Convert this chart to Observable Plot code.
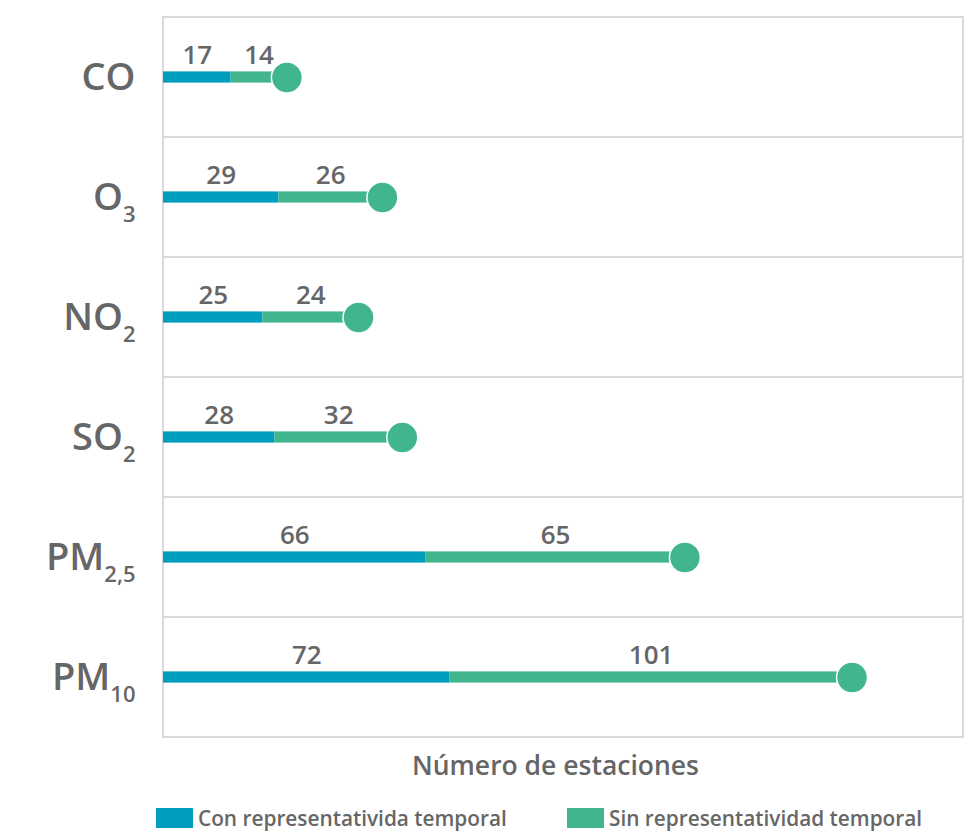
<!DOCTYPE html>
<html>
<head>
<meta charset="utf-8">
<script src="https://cdn.jsdelivr.net/npm/d3@7"></script>
<script src="https://cdn.jsdelivr.net/npm/@observablehq/plot@0.6"></script>
<style>
  html, body { margin: 0; padding: 0; background: #fff; }
  body { font-family: "Open Sans", sans-serif; color: #666; width: 971px; }
  #legend { position: relative; height: 40px; margin-top: 17px; font-size: 20.8px; font-weight: 600; color: #666; }
  .item { position: absolute; top: 0; display: flex; align-items: center; height: 21px; }
  .sw { width: 37px; height: 20px; margin-right: 5px; }
</style>
</head>
<body>
<div id="chart"></div>
<div id="legend"></div>
<script>
const categories = ["CO", "O3", "NO2", "SO2", "PM2,5", "PM10"];
const labelMain = ["CO", "O", "NO", "SO", "PM", "PM"];
const labelSub = ["", "3", "2", "2", "2,5", "10"];
const conRep = [17, 29, 25, 28, 66, 72];
const sinRep = [14, 26, 24, 32, 65, 101];
const seriesNames = ["Con representativida temporal", "Sin representatividad temporal"];
const colors = ["#019dbf", "#41b68c"];
const xTitle = "Número de estaciones";

const rows = categories.map((c, i) => ({cat: c, con: conRep[i], sin: sinRep[i], total: conRep[i] + sinRep[i]}));
const xMax = 201;
const band = (790 - 14 - 51) / categories.length;
const inset = (band - 12) / 2;

const chart = Plot.plot({
  width: 971,
  height: 790,
  marginLeft: 163,
  marginRight: 8,
  marginTop: 14,
  marginBottom: 51,
  x: {domain: [0, xMax], axis: null},
  y: {domain: categories, padding: 0, axis: null},
  style: {fontFamily: "Open Sans, sans-serif", color: "#666", background: "#fff"},
  marks: [
    Plot.barX(categories, {x1: 0, x2: xMax, y: d => d, fill: "none", stroke: "#d9d9d9", strokeWidth: 2}),
    Plot.barX(rows, {x1: 0, x2: "con", y: "cat", fill: colors[0], insetTop: inset, insetBottom: inset}),
    Plot.barX(rows, {x1: "con", x2: "total", y: "cat", fill: colors[1], insetTop: inset, insetBottom: inset}),
    Plot.dot(rows, {x: "total", y: "cat", r: 15.5, fill: colors[1], stroke: "#fff", strokeWidth: 1.5}),
    Plot.text(rows, {x: d => d.con / 2, y: "cat", text: d => String(d.con), lineAnchor: "bottom", dy: -14, fontSize: 26, fontWeight: 600, fill: "#666"}),
    Plot.text(rows, {x: d => d.con + d.sin / 2, y: "cat", text: d => String(d.sin), lineAnchor: "bottom", dy: -14, fontSize: 26, fontWeight: 600, fill: "#666"}),
    Plot.axisY({tickSize: 0, tickPadding: 28, tickFormat: d => labelMain[categories.indexOf(d)], fontSize: 38, fontWeight: 600, fill: "#666", label: null}),
    Plot.text([xTitle], {frameAnchor: "bottom", dx: -8, dy: 35, lineAnchor: "bottom", fontSize: 26.5, fontWeight: 600, fill: "#666"})
  ]
});
document.getElementById("chart").appendChild(chart);

// subscripts on y labels
const tickTexts = chart.querySelectorAll('g[aria-label="y-axis tick label"] text');
tickTexts.forEach((t, i) => {
  const sub = labelSub[i];
  if (sub) {
    const ts = document.createElementNS("http://www.w3.org/2000/svg", "tspan");
    ts.setAttribute("dy", "12");
    ts.setAttribute("font-size", "22");
    ts.textContent = sub;
    t.appendChild(ts);
  }
});

// legend
const legend = document.getElementById("legend");
const lefts = [156, 567];
seriesNames.forEach((name, i) => {
  const it = document.createElement("div");
  it.className = "item";
  it.style.left = lefts[i] + "px";
  const sw = document.createElement("div");
  sw.className = "sw";
  sw.style.background = colors[i];
  const tx = document.createElement("span");
  tx.textContent = name;
  it.appendChild(sw);
  it.appendChild(tx);
  legend.appendChild(it);
});
</script>
</body>
</html>
